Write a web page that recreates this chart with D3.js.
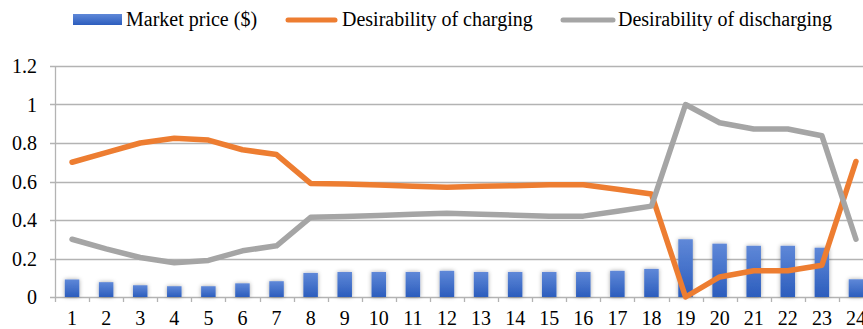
<!DOCTYPE html>
<html>
<head>
<meta charset="utf-8">
<script src="https://cdn.jsdelivr.net/npm/d3@7"></script>
<style>
  html, body { margin: 0; padding: 0; background: #fff; }
  svg { display: block; }
  text { font-family: "Liberation Serif", "Times New Roman", serif; fill: #000; }
</style>
</head>
<body>
<svg id="chart" width="863" height="329"></svg>
<script>
// Hourly data
const hours = d3.range(1, 25).map(String);
const marketPrice = [0.091, 0.077, 0.061, 0.056, 0.056, 0.071, 0.082, 0.125, 0.13, 0.13, 0.13, 0.136,
                     0.13, 0.13, 0.13, 0.13, 0.136, 0.146, 0.30, 0.277, 0.266, 0.266, 0.256, 0.092];
const chargingDesirability = [0.70, 0.75, 0.80, 0.825, 0.815, 0.765, 0.74, 0.59, 0.587, 0.582, 0.575, 0.570,
                              0.575, 0.578, 0.583, 0.583, 0.56, 0.535, 0.0, 0.104, 0.136, 0.136, 0.165, 0.704];
const dischargingDesirability = [0.30, 0.25, 0.205, 0.178, 0.19, 0.24, 0.266, 0.414, 0.418, 0.423, 0.43, 0.435,
                                 0.43, 0.425, 0.42, 0.42, 0.445, 0.472, 1.0, 0.905, 0.873, 0.873, 0.838, 0.30];
const yTicks = [0, 0.2, 0.4, 0.6, 0.8, 1, 1.2];
const legendLabels = ["Market price ($)", "Desirability of charging", "Desirability of discharging"];

const colors = { bar: "#4472C4", charge: "#ED7D31", discharge: "#A5A5A5", grid: "#b3b3b3" };
const fontSize = "20px";

const svg = d3.select("#chart");
const plotLeft = 55, plotRight = 873, plotTop = 66, plotBottom = 297;

const x = d3.scaleBand().domain(hours).range([plotLeft, plotRight]);
const y = d3.scaleLinear().domain([0, 1.2]).range([plotBottom, plotTop]);

const defs = svg.append("defs");
const grad = defs.append("linearGradient").attr("id", "barGrad")
  .attr("x1", 0).attr("y1", 0).attr("x2", 0).attr("y2", 1);
grad.append("stop").attr("offset", "0%").attr("stop-color", "#5f88d8");
grad.append("stop").attr("offset", "100%").attr("stop-color", "#2c5dbd");
const shadow = defs.append("filter").attr("id", "barShadow")
  .attr("x", "-60%").attr("y", "-20%").attr("width", "220%").attr("height", "140%");
shadow.append("feDropShadow").attr("dx", 0).attr("dy", 0).attr("stdDeviation", 2)
  .attr("flood-color", "#000").attr("flood-opacity", 0.35);

// Horizontal gridlines with small ticks left of the axis
svg.append("g").selectAll("line").data(yTicks).join("line")
  .attr("x1", plotLeft - 5).attr("x2", 863)
  .attr("y1", d => Math.round(y(d)) + 0.5).attr("y2", d => Math.round(y(d)) + 0.5)
  .attr("stroke", colors.grid).attr("stroke-width", 1.3);

// Y axis line
svg.append("line").attr("x1", plotLeft + 0.5).attr("x2", plotLeft + 0.5)
  .attr("y1", plotTop).attr("y2", plotBottom + 5)
  .attr("stroke", colors.grid).attr("stroke-width", 1.3);

// X axis ticks at band boundaries
svg.append("g").selectAll("line").data(hours.slice(1)).join("line")
  .attr("x1", d => Math.round(x(d)) + 0.5).attr("x2", d => Math.round(x(d)) + 0.5)
  .attr("y1", plotBottom).attr("y2", plotBottom + 5)
  .attr("stroke", colors.grid).attr("stroke-width", 1.3);

// Y tick labels
svg.append("g").selectAll("text").data(yTicks).join("text")
  .attr("x", 37).attr("y", d => y(d)).attr("dy", "0.35em")
  .attr("text-anchor", "end").style("font-size", fontSize)
  .text(d => d3.format("")(d));

// X tick labels
svg.append("g").selectAll("text").data(hours).join("text")
  .attr("x", d => x(d) + x.bandwidth() / 2).attr("y", 325)
  .attr("text-anchor", "middle").style("font-size", fontSize)
  .text(d => d);

// Market price bars
const barW = 14.5;
svg.append("g").attr("filter", "url(#barShadow)").selectAll("rect").data(marketPrice).join("rect")
  .attr("x", (d, i) => x(hours[i]) + x.bandwidth() / 2 - barW / 2)
  .attr("width", barW)
  .attr("y", d => y(d))
  .attr("height", d => y(0) - y(d))
  .attr("fill", "url(#barGrad)");

// Desirability lines
const line = d3.line().x((d, i) => x(hours[i]) + x.bandwidth() / 2).y(d => y(d));
[[chargingDesirability, colors.charge], [dischargingDesirability, colors.discharge]].forEach(([vals, c]) => {
  svg.append("path").datum(vals).attr("d", line)
    .attr("fill", "none").attr("stroke", c).attr("stroke-width", 5.5)
    .attr("stroke-linejoin", "round").attr("stroke-linecap", "round");
});

// Legend
const lg = svg.append("g");
lg.append("rect").attr("x", 73).attr("y", 14).attr("width", 49).attr("height", 11)
  .attr("fill", "url(#barGrad)");
lg.append("text").attr("x", 126).attr("y", 26).style("font-size", fontSize).text(legendLabels[0]);
lg.append("line").attr("x1", 288).attr("x2", 335).attr("y1", 20).attr("y2", 20)
  .attr("stroke", colors.charge).attr("stroke-width", 5).attr("stroke-linecap", "round");
lg.append("text").attr("x", 342).attr("y", 26).style("font-size", fontSize).text(legendLabels[1]);
lg.append("line").attr("x1", 563).attr("x2", 613).attr("y1", 20).attr("y2", 20)
  .attr("stroke", colors.discharge).attr("stroke-width", 5).attr("stroke-linecap", "round");
lg.append("text").attr("x", 618).attr("y", 26).style("font-size", fontSize).text(legendLabels[2]);
</script>
</body>
</html>
